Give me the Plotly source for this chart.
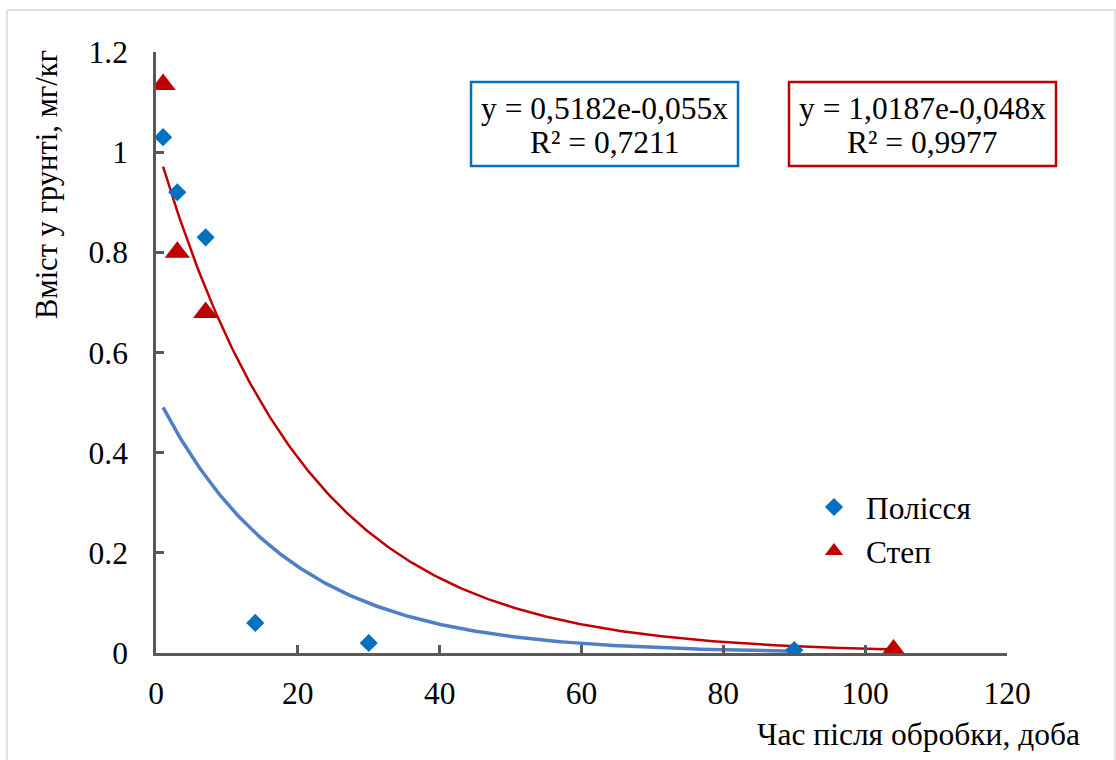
import numpy as np
import plotly.graph_objects as go

# ---- data ----
polissia_x = [1, 3, 7, 14, 30, 90]
polissia_y = [1.03, 0.92, 0.83, 0.06, 0.02, 0.006]
step_x = [1, 3, 7, 104]
step_y = [1.135, 0.80, 0.68, 0.006]

# exponential trendline coefficients (as printed on the chart)
polissia_a, polissia_b = 0.5182, -0.055
step_a, step_b = 1.0187, -0.048

eq_polissia = ["y = 0,5182e-0,055x", "R² = 0,7211"]
eq_step = ["y = 1,0187e-0,048x", "R² = 0,9977"]

x_ticks = [0, 20, 40, 60, 80, 100, 120]
y_ticks = [0, 0.2, 0.4, 0.6, 0.8, 1, 1.2]

# ---- layout geometry (pixels) ----
W, H = 1116, 760
L, R, T, B = 156, 1007, 52, 653


def px(xp):
    return (xp - L) / (R - L)


def py(yp):
    return (B - yp) / (B - T)


FONT = "Liberation Serif"
FS = 31.5
BLUE = "#0070C0"
RED = "#C00000"
AXIS = "#595959"

tx_p = np.linspace(min(polissia_x), max(polissia_x), 300)
tx_s = np.linspace(min(step_x), max(step_x), 300)

fig = go.Figure()
fig.add_trace(go.Scatter(x=tx_p, y=polissia_a * np.exp(polissia_b * tx_p), mode="lines",
                         line=dict(color="#4F7FC4", width=3.5), showlegend=False, hoverinfo="skip"))
fig.add_trace(go.Scatter(x=tx_s, y=step_a * np.exp(step_b * tx_s), mode="lines",
                         line=dict(color=RED, width=2.5), showlegend=False, hoverinfo="skip"))
fig.add_trace(go.Scatter(x=polissia_x, y=polissia_y, mode="markers", name="Полісся",
                         marker=dict(symbol="diamond", size=14, color=BLUE)))
fig.add_trace(go.Scatter(x=step_x, y=step_y, mode="markers", name="Степ",
                         marker=dict(symbol="triangle-up", size=22, color=RED)))

axis_common = dict(showgrid=False, zeroline=False, showline=True, linecolor=AXIS, linewidth=2.5,
                   ticks="inside", ticklen=8, tickwidth=2.5, tickcolor=AXIS,
                   tickfont=dict(family=FONT, size=FS, color="#000000"))

fig.update_xaxes(range=[0, 120], tickvals=x_ticks, ticklabelstandoff=10, **axis_common)
fig.update_yaxes(range=[0, 1.2], tickvals=y_ticks, ticklabelstandoff=19, **axis_common)

shapes = [
    # outer chart border
    dict(type="rect", xref="paper", yref="paper", x0=px(7), x1=px(1115), y0=py(775), y1=py(10),
         line=dict(color="#D9D9D9", width=1.5), layer="below"),
    # equation boxes
    dict(type="rect", xref="paper", yref="paper", x0=px(471), x1=px(738), y0=py(166), y1=py(82),
         line=dict(color=BLUE, width=2.5)),
    dict(type="rect", xref="paper", yref="paper", x0=px(789), x1=px(1056), y0=py(166), y1=py(82),
         line=dict(color=RED, width=2.5)),
]

annotations = []
for lines, cx in ((eq_polissia, 604), (eq_step, 922)):
    for txt, cy in zip(lines, (108, 142)):
        annotations.append(dict(text=txt, xref="paper", yref="paper", x=px(cx), y=py(cy),
                                showarrow=False, xanchor="center", yanchor="middle",
                                font=dict(family=FONT, size=FS, color="#000")))
annotations += [
    dict(text="Час після обробки, доба", xref="paper", yref="paper", x=px(918), y=py(735),
         showarrow=False, xanchor="center", yanchor="middle", font=dict(family=FONT, size=FS, color="#000")),
    dict(text="Вміст у грунті, мг/кг", xref="paper", yref="paper", x=px(47), y=py(185),
         showarrow=False, textangle=-90, xanchor="center", yanchor="middle",
         font=dict(family=FONT, size=30.5, color="#000")),
]

fig.update_layout(
    width=W, height=H,
    margin=dict(l=L, r=W - R, t=T, b=H - B, autoexpand=False),
    paper_bgcolor="white", plot_bgcolor="white",
    shapes=shapes, annotations=annotations,
    legend=dict(x=px(802), y=py(480), xanchor="left", yanchor="top", itemwidth=54,
                font=dict(family=FONT, size=FS, color="#000"), bgcolor="rgba(0,0,0,0)",
                tracegroupgap=0),
    font=dict(family=FONT),
)

fig.write_html("out.html")
